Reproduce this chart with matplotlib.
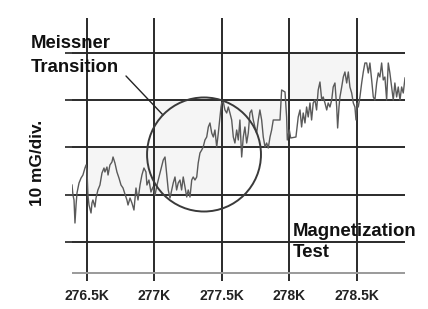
import matplotlib.pyplot as plt
from matplotlib.patches import Ellipse

plt.rcParams['font.family'] = ['Liberation Sans', 'DejaVu Sans']
plt.rcParams['font.weight'] = 'bold'

# temperature (K) and field (mG)
temp_k = [276.389, 276.396, 276.404, 276.411, 276.419, 276.426, 276.441, 276.456,
          276.470, 276.485, 276.493, 276.500, 276.507, 276.515, 276.530, 276.537,
          276.544, 276.559, 276.567, 276.581, 276.596, 276.611, 276.626, 276.633,
          276.648, 276.656, 276.670, 276.685, 276.693, 276.707, 276.722, 276.737,
          276.752, 276.767, 276.781, 276.796, 276.804, 276.819, 276.833, 276.848,
          276.856, 276.863, 276.878, 276.893, 276.907, 276.922, 276.937, 276.944,
          276.959, 276.974, 276.989, 277.004, 277.019, 277.028, 277.065, 277.078,
          277.090, 277.102, 277.115, 277.139, 277.152, 277.164, 277.176, 277.189,
          277.201, 277.213, 277.226, 277.239, 277.250, 277.263, 277.276, 277.287,
          277.300, 277.313, 277.324, 277.337, 277.350, 277.361, 277.374, 277.387,
          277.399, 277.411, 277.424, 277.436, 277.448, 277.461, 277.473, 277.485,
          277.493, 277.498, 277.510, 277.522, 277.535, 277.547, 277.559, 277.572,
          277.584, 277.596, 277.609, 277.621, 277.633, 277.646, 277.658, 277.670,
          277.683, 277.695, 277.707, 277.720, 277.732, 277.744, 277.757, 277.769,
          277.781, 277.794, 277.806, 277.819, 277.831, 277.843, 277.856, 277.868,
          277.880, 277.930, 277.942, 277.967, 277.979, 277.984, 277.999, 278.009,
          278.048, 278.065, 278.078, 278.090, 278.102, 278.115, 278.127, 278.139,
          278.152, 278.164, 278.176, 278.189, 278.201, 278.213, 278.226, 278.239,
          278.250, 278.263, 278.276, 278.287, 278.300, 278.313, 278.324, 278.337,
          278.350, 278.357, 278.367, 278.374, 278.387, 278.399, 278.411, 278.424,
          278.436, 278.448, 278.461, 278.473, 278.485, 278.493, 278.502, 278.510,
          278.522, 278.535, 278.547, 278.559, 278.572, 278.584, 278.596, 278.609,
          278.621, 278.633, 278.646, 278.658, 278.670, 278.683, 278.695, 278.707,
          278.720, 278.732, 278.744, 278.757, 278.769, 278.781, 278.794, 278.806,
          278.819, 278.831, 278.843, 278.856]
field_mg = [12.06, 9.95, 8.89, 4.02, 7.83, 10.37, 12.49, 13.54,
            14.18, 15.66, 16.30, 15.24, 9.95, 7.83, 6.14, 8.25,
            8.89, 7.41, 9.31, 11.01, 12.06, 14.60, 15.66, 14.81,
            15.87, 14.18, 16.30, 16.93, 17.99, 16.72, 14.81, 13.54,
            12.06, 11.43, 10.16, 8.89, 7.83, 9.31, 8.25, 6.77,
            9.31, 11.43, 8.89, 12.06, 14.18, 15.66, 14.81, 12.06,
            13.12, 10.58, 11.64, 9.95, 12.06, 13.12, 17.35, 17.99,
            14.60, 11.01, 9.31, 12.49, 13.76, 11.01, 12.49, 13.12,
            11.01, 13.76, 11.64, 9.52, 11.01, 9.52, 13.12, 13.76,
            13.12, 13.76, 16.72, 18.84, 19.47, 20.11, 21.59, 22.22,
            24.34, 25.19, 23.07, 22.22, 23.70, 20.11, 23.07, 26.46,
            28.57, 29.42, 29.63, 27.94, 27.30, 28.57, 27.30, 25.82,
            22.22, 20.95, 23.70, 21.59, 25.82, 17.99, 22.22, 24.34,
            20.95, 23.07, 27.30, 27.94, 25.82, 24.34, 23.07, 25.82,
            27.94, 25.82, 22.22, 20.11, 20.95, 19.89, 22.22, 23.70,
            25.82, 25.82, 32.17, 31.75, 26.46, 21.59, 23.70, 22.01,
            22.22, 26.46, 27.94, 24.34, 27.30, 25.19, 28.57, 26.46,
            29.42, 25.82, 29.42, 30.05, 27.94, 32.17, 33.86, 30.05,
            30.69, 29.42, 27.94, 29.42, 28.57, 30.05, 32.80, 33.65,
            28.57, 24.13, 28.57, 30.69, 32.80, 34.92, 35.98, 33.65,
            35.98, 32.80, 31.53, 29.42, 28.57, 25.82, 29.42, 28.57,
            30.69, 33.65, 35.98, 37.88, 37.88, 35.77, 37.88, 34.29,
            30.69, 30.05, 33.65, 35.77, 34.92, 37.88, 34.29, 34.92,
            30.05, 37.88, 35.77, 32.80, 30.05, 33.65, 30.69, 32.80,
            30.05, 32.80, 31.53, 34.71]

x_ticks = [276.5, 277.0, 277.5, 278.0, 278.5]
x_labels = ['276.5K', '277K', '277.5K', '278K', '278.5K']
y_ticks = [0, 10, 20, 30, 40]

# shaded steps (start K, end K, low mG, high mG)
band_start = [276.5, 277.0, 278.0]
band_end = [277.5, 278.0, 278.5]
band_low = [10, 20, 30]
band_high = [20, 30, 40]

fig = plt.figure(figsize=(4.28, 3.09), dpi=100)
ax = fig.add_axes([72 / 428, 1 - 281 / 309, 333 / 428, 263 / 309])

for x0, x1, y0, y1 in zip(band_start, band_end, band_low, band_high):
    ax.fill_between([x0, x1], y0, y1, color='#f5f5f5', lw=0, zorder=0.2)

ax.plot(temp_k, field_mg, color='#5a5a5a', lw=1.0, zorder=3)

ax.set_xlim(276.389, 278.856)
ax.set_ylim(-8.25, 47.4)
ax.set_xticks(x_ticks)
ax.set_xticklabels(x_labels, fontsize=10, fontweight='bold', color='#222222')
ax.set_yticks(y_ticks)
ax.tick_params(axis='x', length=0, pad=6)
ax.tick_params(axis='y', length=5, width=1.3, color='#333333', labelleft=False)
ax.set_axisbelow(True)
ax.grid(True, color='#2a2a2a', lw=1.4)
for s in ax.spines.values():
    s.set_visible(False)
ax.axhline(-6.6, color='#9a9a9a', lw=1.4, zorder=0.6)

circ = Ellipse((277.367, 18.52), width=0.844, height=24.13, fill=False,
               edgecolor='#3a3a3a', lw=1.4, zorder=4)
ax.add_patch(circ)
ax.annotate('', xy=(277.063, 26.88), xytext=(276.789, 35.13),
            arrowprops=dict(arrowstyle='-', color='#222222', lw=1.0,
                            shrinkA=0, shrinkB=0), annotation_clip=False)

fig.text(31 / 428, 1 - 48.5 / 309, 'Meissner', fontsize=13.3, fontweight='bold',
         color='#111111', va='baseline')
fig.text(31 / 428, 1 - 72.5 / 309, 'Transition', fontsize=13.3, fontweight='bold',
         color='#111111', va='baseline')
fig.text(293 / 428, 1 - 235.5 / 309, 'Magnetization', fontsize=13.4, fontweight='bold',
         color='#111111', va='baseline')
fig.text(293 / 428, 1 - 257 / 309, 'Test', fontsize=13.4, fontweight='bold',
         color='#111111', va='baseline')
fig.text(38 / 428, 1 - 163 / 309, '10 mG/div.', fontsize=12.4, fontweight='bold',
         color='#111111', rotation=90, ha='center', va='center')

fig.savefig('out.png', dpi=100)
